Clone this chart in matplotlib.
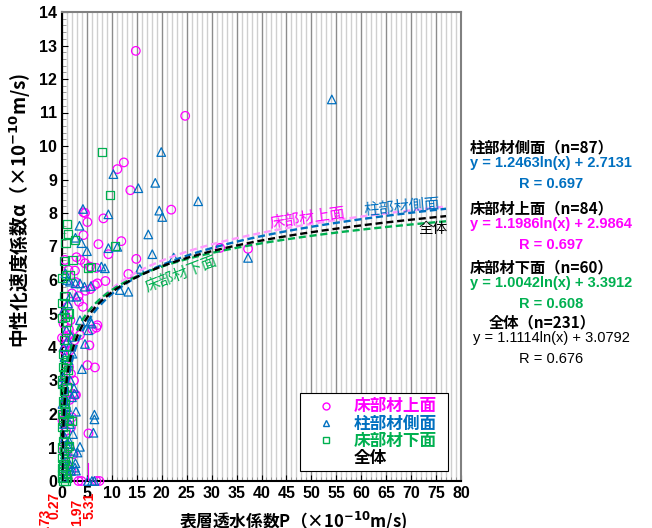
import numpy as np
import matplotlib
matplotlib.use("Agg")
import matplotlib.pyplot as plt
from matplotlib.lines import Line2D
from matplotlib.ticker import MultipleLocator

plt.rcParams["font.family"] = ["Liberation Sans", "Noto Sans CJK JP", "DejaVu Sans"]
plt.rcParams["font.weight"] = "bold"
plt.rcParams["mathtext.default"] = "bf"
JP = ["Noto Sans CJK JP", "DejaVu Sans"]

# ── data ────────────────────────────────────────────────────────────────
# 床部材上面 (n=84)
top_x = [14.8, 24.7, 12.4, 11.1, 13.7, 21.9, 8.3, 4.3, 4.6, 5.1, 4.3, 7.3, 11.9, 9.3, 14.9,
         31.7, 37.3, 2.9, 3.7, 4.6, 5.6, 6.9, 2.6, 8.7, 7.1, 2.7, 6.6, 4.7, 5.7, 3.3,
         3.4, 4.2, 13.3, 1.4, 1.5, 0.0, 6.9, 6.1, 7.1, 3.6, 5.5, 5.1, 6.6, 2.8, 2.6,
         1.5, 5.3, 1.8, 1.5, 3.3, 3.9, 6.9, 7.5, 0.5, 0.3, 0.8, 1.0, 0.2, 0.6, 1.2,
         2.0, 0.4, 1.0, 0.7, 1.6, 2.3, 0.9, 2.1, 0.1, 1.8, 0.3, 2.5, 1.1, 2.0, 0.6,
         1.3, 0.2, 1.9, 0.8, 1.4, 2.4, 0.5, 1.7, 1.0]
top_y = [12.84, 10.9, 9.51, 9.31, 8.68, 8.10, 7.84, 8.02, 8.0, 7.73, 7.34, 7.07, 7.16, 6.77, 6.63,
         6.96, 6.93, 6.68, 6.6, 6.5, 6.4, 6.36, 6.28, 5.97, 5.9, 5.94, 5.85, 5.68, 5.73, 5.52,
         5.35, 5.2, 6.18, 4.53, 4.36, 4.27, 4.58, 4.53, 4.65, 4.36, 4.05, 3.46, 3.39, 2.57, 2.57,
         2.42, 1.42, 1.6, 1.02, 0.0, 0.0, 0.0, 0.0, 3.9, 2.0, 1.5, 0.8, 0.3, 3.0, 2.8,
         1.9, 1.2, 4.1, 4.3, 3.9, 0.8, 0.2, 2.6, 1.8, 3.2, 4.7, 4.2, 5.2, 5.6, 6.6,
         6.3, 0.9, 0.3, 2.4, 3.4, 3.0, 5.0, 4.8, 0.5]

# 柱部材側面 (n=87)
side_x = [19.9, 10.3, 18.7, 15.3, 27.3, 4.2, 19.5, 20.1, 9.3, 3.5, 2.7, 3.9, 17.3, 5.0, 9.3,
          11.1, 18.1, 22.4, 37.3, 7.9, 54.1, 8.6, 15.6, 13.3, 11.6, 2.7, 3.6, 1.6, 0.7, 4.5,
          5.8, 1.6, 2.9, 5.3, 5.9, 5.7, 3.6, 1.1, 1.4, 4.6, 4.0, 6.5, 6.5, 6.3, 3.6,
          3.1, 2.7, 2.8, 5.2, 6.5, 6.0, 2.4, 2.8, 2.5, 2.6, 0.2, 0.3, 0.5, 0.8, 1.0,
          1.2, 0.4, 0.6, 0.9, 0.3, 0.7, 1.5, 1.1, 0.2, 1.8, 0.5, 1.3, 1.7, 2.0, 0.9,
          1.9, 0.4, 1.2, 2.2, 1.6, 0.1, 0.6, 2.1, 1.0, 0.3, 1.4, 2.3]
side_y = [9.82, 9.16, 8.90, 8.74, 8.35, 8.12, 8.07, 7.88, 7.96, 7.62, 7.26, 7.10, 7.36, 6.86, 6.95,
          6.99, 6.77, 6.67, 6.66, 6.4, 11.39, 6.35, 6.33, 5.65, 5.7, 5.9, 5.9, 5.95, 6.2, 5.8,
          5.82, 5.5, 5.5, 4.5, 4.7, 4.76, 4.8, 4.2, 4.0, 4.09, 3.34, 1.98, 1.84, 1.44, 1.02,
          0.85, 0.53, 0.31, 0.0, 0.0, 0.0, 2.77, 2.07, 2.6, 0.4, 3.1, 2.9, 2.5, 2.3, 2.2,
          2.0, 1.7, 1.3, 1.1, 0.6, 0.4, 0.5, 0.2, 0.1, 0.3, 3.7, 3.6, 3.0, 2.5, 4.5,
          4.3, 5.1, 5.3, 1.4, 1.7, 2.3, 0.8, 3.8, 6.0, 4.0, 1.2, 0.9]

# 床部材下面 (n=60)
bot_x = [8.1, 9.6, 1.0, 1.2, 0.7, 2.6, 10.6, 2.1, 5.3, 0.5, 0.0, 0.8, 1.6, 0.5, 1.1,
         1.4, 0.0, 1.0, 1.4, 1.9, 1.3, 5.8, 0.1, 0.2, 0.3, 0.1, 0.4, 0.2, 0.5, 0.1,
         0.3, 0.6, 0.2, 0.4, 0.1, 0.5, 0.7, 0.2, 1.0, 0.3, 0.8, 0.6, 0.9, 0.0, 0.0,
         0.0, 0.0, 0.4, 0.8, 1.2, 0.1, 0.6, 0.3, 0.7, 1.0, 0.2, 0.9, 1.1, 0.5, 0.0]
bot_y = [9.82, 8.54, 7.68, 7.36, 7.10, 7.19, 7.02, 6.6, 6.35, 6.58, 6.05, 6.16, 6.16, 5.51, 5.0,
         5.0, 4.86, 4.76, 1.82, 1.8, 1.05, 6.4, 0.1, 0.3, 0.5, 0.7, 0.9, 1.2, 1.4, 1.6,
         1.9, 2.1, 2.4, 2.7, 2.9, 3.2, 3.5, 3.4, 3.6, 3.8, 0.2, 0.6, 1.0, 0.4, 1.0,
         2.0, 3.0, 4.2, 4.5, 3.3, 5.3, 4.9, 0.0, 0.0, 0.1, 1.8, 2.8, 0.6, 2.3, 0.2]

# fitted curves y = a ln(x) + b
fit_names = ["床部材上面", "床部材下面", "柱部材側面", "全体"]
fit_a = [1.1986, 1.0042, 1.2463, 1.1114]
fit_b = [2.9864, 3.3912, 2.7131, 3.0792]
fit_colors = ["#FF99FF", "#00B050", "#0070C0", "black"]

thresholds = [0.27, 0.73, 1.97, 5.31]

MAG, BLU, GRN = "#FF00FF", "#0070C0", "#00B050"

# ── figure ───────────────────────────────────────────────────────────────
W, H = 652, 528
fig = plt.figure(figsize=(W / 100, H / 100), dpi=100)
ax = fig.add_axes([62 / W, 1 - 481 / H, (461 - 62) / W, (481 - 12) / H])


def px(x, y):
    return x / W, 1 - y / H


ax.set_xlim(0, 80)
ax.set_ylim(0, 14)

# vertical grid
ax.xaxis.set_major_locator(MultipleLocator(5))
ax.xaxis.set_minor_locator(MultipleLocator(1))
ax.yaxis.set_major_locator(MultipleLocator(1))
ax.yaxis.set_minor_locator(MultipleLocator(0.2))
ax.grid(True, axis="x", which="minor", color="#cfcfcf", lw=1.0)
ax.grid(True, axis="x", which="major", color="#8c8c8c", lw=1.0)
ax.set_axisbelow(True)

ax.tick_params(which="both", direction="in")
ax.tick_params(which="major", length=4, labelsize=11.5)
ax.tick_params(which="minor", length=3, color="#888888")

for s in ("left", "bottom"):
    ax.spines[s].set_color("black")
    ax.spines[s].set_linewidth(1.5)
for s in ("top", "right"):
    ax.spines[s].set_color("#808080")
    ax.spines[s].set_linewidth(1.5)

ms = 38
ax.scatter(top_x, top_y, s=ms, marker="o", facecolors="none", edgecolors=MAG, lw=0.9, clip_on=False, zorder=3)
ax.scatter(side_x, side_y, s=ms, marker="^", facecolors="none", edgecolors=BLU, lw=0.9, clip_on=False, zorder=3)
ax.scatter(bot_x, bot_y, s=ms - 4, marker="s", facecolors="none", edgecolors=GRN, lw=0.9, clip_on=False, zorder=3)

# threshold marker
ax.plot([thresholds[3], thresholds[3]], [0, 0.55], color=MAG, lw=0.8, zorder=4)

for a, b, c in zip(fit_a, fit_b, fit_colors):
    x0 = np.exp(-b / a)
    xs = np.geomspace(x0, 77, 400)
    ax.plot(xs, a * np.log(xs) + b, color=c, lw=1.7, ls=(0, (3, 1.6)), zorder=5)

# curve labels
fig.text(*px(308, 218), "床部材上面", color=MAG, fontsize=11, rotation=8,
         ha="center", va="center", family=JP, fontweight="normal")
fig.text(*px(402, 207), "柱部材側面", color=BLU, fontsize=11, rotation=5,
         ha="center", va="center", family=JP, fontweight="normal")
fig.text(*px(433, 229), "全体", color="black", fontsize=10.5, ha="center", va="center",
         family=JP, fontweight="normal")
fig.text(*px(181, 274), "床部材下面", color=GRN, fontsize=11, rotation=21,
         ha="center", va="center", family=JP, fontweight="normal")

# threshold labels below axis
for v, dx, ytop in zip(thresholds, [-9, -20, 5, 1.5], [492, 509, 499, 492]):
    xd = ax.transData.transform((v, 0))[0]
    fig.text((xd + dx) / W, 1 - ytop / H, f"{v:.2f}", color="red", fontsize=10,
             rotation=90, ha="center", va="top")

# axis labels
fig.text(*px(20, 210), "中性化速度係数α（×10$^{-10}$m/s)", rotation=90, ha="center", va="center",
         fontsize=13.5, family=JP)
fig.text(*px(293, 521), "表層透水係数P（×10$^{-10}$m/s)", ha="center", va="center",
         fontsize=12, family=JP)

# legend
handles = [
    Line2D([], [], marker="o", ls="none", mfc="none", mec=MAG, ms=5),
    Line2D([], [], marker="^", ls="none", mfc="none", mec=BLU, ms=5),
    Line2D([], [], marker="s", ls="none", mfc="none", mec=GRN, ms=5),
    Line2D([], [], ls="none"),
]
leg = ax.legend(handles, ["床部材上面", "柱部材側面", "床部材下面", "全体"],
                loc="lower left", bbox_to_anchor=(0.596, 0.021, 0.371, 0.156), mode="expand",
                borderaxespad=0, frameon=True, fancybox=False, edgecolor="black", framealpha=1,
                prop={"family": JP, "weight": "bold", "size": 12},
                handlelength=2.6, handletextpad=0.4, labelspacing=-0.05,
                borderpad=0.25)
leg.get_frame().set_linewidth(0.8)
for t, c in zip(leg.get_texts(), [MAG, BLU, GRN, "black"]):
    t.set_color(c)

# equations at right
eqs = [
    ("柱部材側面（n=87）", "y = 1.2463ln(x) + 2.7131", "R = 0.697", BLU, 147),
    ("床部材上面（n=84）", "y = 1.1986ln(x) + 2.9864", "R = 0.697", MAG, 208),
    ("床部材下面（n=60）", "y = 1.0042ln(x) + 3.3912", "R = 0.608", GRN, 267),
    ("全体（n=231）", "y = 1.1114ln(x) + 3.0792", "R = 0.676", "black", 322),
]
for head, eq, r, c, y0 in eqs:
    wt = "normal" if c == "black" else "bold"
    fig.text(*px(542, y0), head, ha="center", va="center", fontsize=11, family=JP)
    fig.text(*px(551, y0 + 16), eq, ha="center", va="center", fontsize=10.5,
             fontweight=wt, color=c)
    fig.text(*px(551, y0 + 37), r, ha="center", va="center", fontsize=10.5,
             fontweight=wt, color=c)

fig.savefig("out.png", dpi=100)
